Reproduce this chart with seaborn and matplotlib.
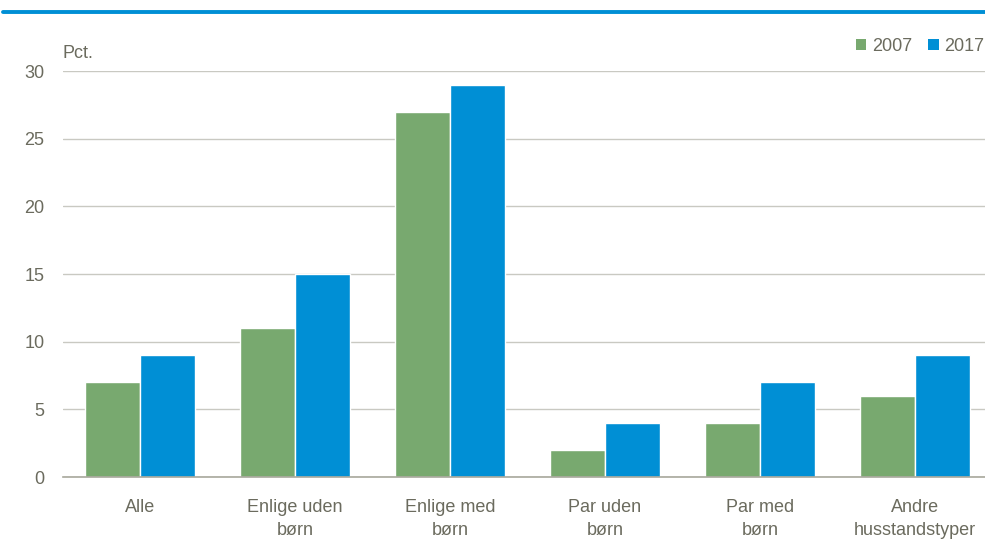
import pandas as pd
import seaborn as sns
import matplotlib.pyplot as plt
from matplotlib.patches import Patch
from matplotlib.lines import Line2D

categories = ["Alle", "Enlige uden\nbørn", "Enlige med\nbørn", "Par uden\nbørn",
              "Par med\nbørn", "Andre\nhusstandstyper"]
years = ["2007", "2017"]
values_2007 = [7, 11, 27, 2, 4, 6]
values_2017 = [9, 15, 29, 4, 7, 9]
y_ticks = [0, 5, 10, 15, 20, 25, 30]

COLORS = {"2007": "#78a96f", "2017": "#008fd5"}
TEXT_COLOR = "#6b6b5e"

df = pd.DataFrame({
    "category": categories * 2,
    "year": [years[0]] * len(categories) + [years[1]] * len(categories),
    "value": values_2007 + values_2017,
})

sns.set_style("white")
plt.rcParams["font.family"] = ["Liberation Sans Narrow", "Liberation Sans", "DejaVu Sans"]

fig = plt.figure(figsize=(9.85, 5.39), dpi=100)
ax = fig.add_axes([0.0635, 0.115, 0.944, 0.753])

sns.barplot(
    data=df, x="category", y="value", hue="year", palette=COLORS,
    width=0.71, saturation=1, edgecolor="white", linewidth=1,
    legend=False, ax=ax,
)

ax.set_ylim(0, 30)
ax.set_yticks(y_ticks)
ax.yaxis.grid(True, color="#c9c9c2", linewidth=1)
ax.set_axisbelow(True)
for side in ["top", "right", "left"]:
    ax.spines[side].set_visible(False)
ax.spines["bottom"].set_color("#a8a89c")
ax.spines["bottom"].set_linewidth(1.2)
ax.set_xlabel("")
ax.set_ylabel("")
ax.tick_params(axis="both", length=0, labelsize=13, colors=TEXT_COLOR)
ax.tick_params(axis="y", pad=13)
ax.tick_params(axis="x", pad=16)
for lab in ax.get_xticklabels():
    lab.set_linespacing(1.45)

fig.text(0.063, 0.885, "Pct.", fontsize=13, color=TEXT_COLOR, ha="left", va="bottom")

# blue rule at the top (title above is cut off in the source image)
fig.add_artist(Line2D([0.003, 1.0], [0.978, 0.978], color="#008fd5", linewidth=2.8,
                      transform=fig.transFigure))

handles = [Patch(facecolor=COLORS[y], edgecolor="none", label=y) for y in years]
fig.legend(handles=handles, loc="upper right", bbox_to_anchor=(1.016, 0.96),
           ncol=2, frameon=False, fontsize=13, handlelength=0.6, handleheight=0.6,
           handletextpad=0.3, columnspacing=0.9, labelcolor=TEXT_COLOR)

fig.savefig("out.png", dpi=100)
